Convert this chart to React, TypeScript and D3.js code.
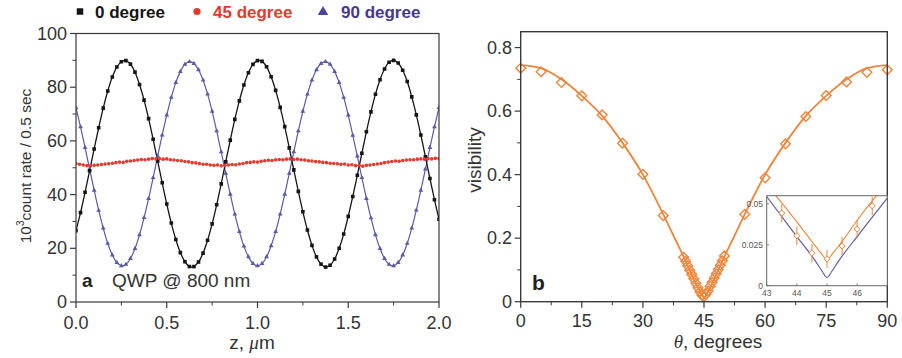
import React from "react";
import * as d3 from "d3";

// ---------- Panel a data ----------
const Z_STEP_BB = 0.025;
const Z_BB = d3.range(81).map((i) => +(i * Z_STEP_BB).toFixed(3));
const BLACK = [
  26.6, 33.3, 40.9, 48.9, 57.0, 64.9, 72.2, 78.6, 83.8, 87.5,
  89.5, 89.9, 88.6, 85.6, 81.0, 75.2, 68.3, 60.6, 52.5, 44.4,
  36.5, 29.4, 23.3, 18.4, 15.0, 13.2, 13.2, 14.9, 18.2, 23.0,
  29.1, 36.2, 44.0, 52.2, 60.3, 68.0, 74.9, 80.8, 85.4, 88.5,
  89.9, 89.6, 87.6, 83.9, 78.8, 72.5, 65.3, 57.4, 49.2, 41.2,
  33.6, 26.8, 21.1, 16.8, 14.1, 13.0, 13.7, 16.0, 20.0, 25.3,
  31.9, 39.3, 47.2, 55.4, 63.4, 70.8, 77.4, 82.8, 86.8, 89.3,
  90.0, 89.0, 86.3, 82.1, 76.4, 69.7, 62.2, 54.1, 46.0, 38.1, 30.8,
];
const BLUE = [
  72.3, 65.2, 57.5, 49.5, 41.6, 34.1, 27.5, 21.8, 17.5, 14.7,
  13.5, 14.0, 16.2, 19.9, 25.0, 31.4, 38.5, 46.3, 54.3, 62.2,
  69.6, 76.2, 81.7, 85.8, 88.5, 89.5, 88.8, 86.5, 82.6, 77.4,
  71.0, 63.7, 55.9, 47.9, 40.1, 32.7, 26.2, 20.8, 16.8, 14.3,
  13.5, 14.3, 16.8, 20.9, 26.2, 32.7, 40.1, 47.9, 55.9, 63.7,
  71.0, 77.4, 82.6, 86.5, 88.8, 89.5, 88.5, 85.8, 81.7, 76.2,
  69.6, 62.1, 54.3, 46.3, 38.5, 31.3, 25.0, 19.9, 16.2, 14.0,
  13.5, 14.7, 17.5, 21.8, 27.5, 34.2, 41.6, 49.5, 57.5, 65.2, 72.4,
];
const Z_RED = d3.range(101).map((i) => +(i * 0.02).toFixed(3));
const RED = [
  51.6, 51.3, 51.0, 50.8, 50.7, 50.9, 51.0, 51.2, 51.4, 51.5,
  51.7, 51.9, 52.1, 52.0, 52.4, 52.5, 52.7, 52.9, 53.1, 53.0,
  53.2, 53.4, 53.3, 53.4, 53.2, 53.3, 53.0, 52.9, 52.7, 52.6,
  52.3, 52.2, 51.9, 51.8, 51.6, 51.3, 51.3, 51.0, 50.9, 51.0,
  50.7, 50.9, 51.0, 51.2, 51.1, 51.4, 51.6, 51.9, 52.0, 52.2,
  52.1, 52.4, 52.6, 52.8, 52.7, 53.0, 53.1, 53.0, 53.2, 53.3,
  53.1, 53.2, 53.0, 52.9, 52.6, 52.5, 52.3, 52.2, 52.0, 51.9,
  51.7, 51.6, 51.5, 51.3, 51.4, 51.0, 51.1, 50.8, 50.9, 50.6,
  50.9, 51.0, 51.2, 51.4, 51.6, 51.9, 52.1, 52.3, 52.5, 52.4,
  52.7, 52.9, 53.0, 53.0, 53.2, 53.3, 53.2, 53.4, 53.3, 53.5, 53.4,
];
const A_X_TICKS = [0, 0.5, 1.0, 1.5, 2.0];
const A_X_MINOR = [0.25, 0.75, 1.25, 1.75];
const A_Y_TICKS = [0, 20, 40, 60, 80, 100];
const A_Y_MINOR = [10, 30, 50, 70, 90];
const LEGEND = ["0 degree", "45 degree", "90 degree"];

// ---------- Panel b data ----------
const THETA_PTS = [
  0, 5, 10, 15, 20, 25, 30, 35,
  40, 40.5, 41, 41.5, 42, 42.5, 43, 43.5, 44, 44.5, 45, 45.5, 46, 46.5, 47, 47.5, 48, 48.5, 49, 49.5, 50,
  55, 60, 65, 70, 75, 80, 85, 90,
];
const VIS_PTS = [
  0.735, 0.724, 0.69, 0.648, 0.588, 0.499, 0.401, 0.271,
  0.14, 0.127, 0.113, 0.099, 0.086, 0.072, 0.058, 0.044, 0.031, 0.02, 0.017, 0.024, 0.034, 0.049, 0.061, 0.075, 0.088, 0.101, 0.115, 0.129, 0.144,
  0.275, 0.39, 0.497, 0.583, 0.649, 0.692, 0.722, 0.73,
];
const FIT_THETA = [0, 5, 10, 15, 20, 25, 30, 35, 38, 40, 42, 43, 44, 44.5, 45, 45.5, 46, 47, 48, 50, 52, 55, 60, 65, 70, 75, 80, 85, 90];
const FIT_VIS = [0.745, 0.735, 0.7, 0.648, 0.585, 0.5, 0.4, 0.275, 0.195, 0.142, 0.086, 0.058, 0.034, 0.021, 0.013, 0.021, 0.034, 0.058, 0.086, 0.142, 0.195, 0.275, 0.4, 0.5, 0.585, 0.648, 0.7, 0.735, 0.745];
const B_X_TICKS = [0, 15, 30, 45, 60, 75, 90];
const B_X_MINOR = [7.5, 22.5, 37.5, 52.5, 67.5, 82.5];
const B_Y_TICKS = [0, 0.2, 0.4, 0.6, 0.8];
const B_Y_MINOR = [0.1, 0.3, 0.5, 0.7];

// ---------- Inset data ----------
const IN_THETA = [43.5, 44, 44.5, 45, 45.5, 46, 46.5];
const IN_VIS = [0.0444, 0.0305, 0.0199, 0.0164, 0.0243, 0.0346, 0.0488];
const IN_ERR = [0.0055, 0.0057, 0.0056, 0.0055, 0.0055, 0.0055, 0.0056];
const IN_FIT_THETA = [43, 44, 44.5, 44.8, 45, 45.2, 45.5, 46, 47];
const IN_FIT_VIS = [0.062, 0.039, 0.027, 0.02, 0.016, 0.02, 0.027, 0.04, 0.063];
const IN_TH_THETA = [43, 44, 44.6, 44.85, 45, 45.15, 45.4, 46, 47];
const IN_TH_VIS = [0.0545, 0.03, 0.0155, 0.0085, 0.005, 0.0085, 0.0155, 0.03, 0.0535];
const IN_X_TICKS = [43, 44, 45, 46];
const IN_Y_TICKS = [0, 0.025, 0.05];

const FONT = "'Liberation Sans', Arial, Helvetica, sans-serif";
const BLACK_C = "#151515";
const BLUE_C = "#5a5aa8";
const RED_C = "#e5382e";
const ORANGE = "#ef843a";
const AXIS_C = "#3a3a3a";

export default function App() {
  // panel a scales
  const ax = d3.scaleLinear().domain([0, 2]).range([76, 439]);
  const ay = d3.scaleLinear().domain([0, 100]).range([302, 33.5]);
  // panel b scales
  const bx = d3.scaleLinear().domain([0, 90]).range([520.7, 887.3]);
  const by = d3.scaleLinear().domain([0, 0.85]).range([301.7, 31.7]);
  // inset
  const ix = d3.scaleLinear().domain([43, 47]).range([766.7, 887.3]);
  const iy = d3.scaleLinear().domain([0, 0.055]).range([285.7, 195.7]);

  const lineA = d3
    .line<number>()
    .x((_, i) => ax(Z_BB[i]))
    .curve(d3.curveCatmullRom);
  const blackPath = lineA.y((d) => ay(d))(BLACK) || "";
  const bluePath = lineA.y((d) => ay(d))(BLUE) || "";

  const fitPath =
    d3
      .line<number>()
      .x((_, i) => bx(FIT_THETA[i]))
      .y((d) => by(d))
      .curve(d3.curveMonotoneX)(FIT_VIS) || "";
  const inFit =
    d3
      .line<number>()
      .x((_, i) => ix(IN_FIT_THETA[i]))
      .y((d) => iy(d))
      .curve(d3.curveMonotoneX)(IN_FIT_VIS) || "";
  const inTh =
    d3
      .line<number>()
      .x((_, i) => ix(IN_TH_THETA[i]))
      .y((d) => iy(d))
      .curve(d3.curveMonotoneX)(IN_TH_VIS) || "";

  const sq = d3.symbol(d3.symbolSquare, 13)() || "";
  const tri = d3.symbol(d3.symbolTriangle, 10)() || "";
  const sqLeg = d3.symbol(d3.symbolSquare, 42)() || "";
  const triLeg = d3.symbol(d3.symbolTriangle, 48)() || "";
  const dia = d3.symbol(d3.symbolDiamond2 ?? d3.symbolDiamond, 60)() || "";
  const diaSmall = d3.symbol(d3.symbolDiamond2 ?? d3.symbolDiamond, 24)() || "";

  const fmtA = (v: number) => String(v);
  const fmtAx = (v: number) => v.toFixed(1);
  const fmtB = (v: number) => (v === 0 ? "0" : v.toFixed(1));
  const fmtIn = (v: number) => (v === 0 ? "0" : String(v));

  return (
    <svg
      width={902}
      height={358}
      style={{ position: "absolute", left: 0, top: 0, background: "#fff" }}
      fontFamily={FONT}
    >
      <defs>
        <clipPath id="clipA">
          <rect x={76} y={33.5} width={363} height={268.5} />
        </clipPath>
        <clipPath id="clipIn">
          <rect x={766.7} y={195.7} width={120.6} height={90} />
        </clipPath>
      </defs>

      {/* ---------------- Panel a ---------------- */}
      <g>
        <path d={sqLeg} transform="translate(80,11.5)" fill={BLACK_C} />
        <text x={95} y={17.5} fontSize={17} fontWeight="bold" fill={BLACK_C}>{LEGEND[0]}</text>
        <circle cx={197} cy={11.5} r={3.6} fill={RED_C} />
        <text x={213} y={17.5} fontSize={17} fontWeight="bold" fill={RED_C}>{LEGEND[1]}</text>
        <path d={triLeg} transform="translate(323,12)" fill="#4a45a0" />
        <text x={341} y={17.5} fontSize={17} fontWeight="bold" fill="#47398c">{LEGEND[2]}</text>
      </g>

      <g clipPath="url(#clipA)">
        <path d={bluePath} fill="none" stroke={BLUE_C} strokeWidth={1.2} />
        <path d={blackPath} fill="none" stroke={BLACK_C} strokeWidth={1.3} />
        {BLUE.map((v, i) => (
          <path key={"bl" + i} d={tri} transform={`translate(${ax(Z_BB[i])},${ay(v)})`} fill={BLUE_C} />
        ))}
        {BLACK.map((v, i) => (
          <path key={"bk" + i} d={sq} transform={`translate(${ax(Z_BB[i])},${ay(v)})`} fill={BLACK_C} />
        ))}
        {RED.map((v, i) => (
          <circle key={"r" + i} cx={ax(Z_RED[i])} cy={ay(v)} r={1.8} fill={RED_C} />
        ))}
      </g>

      <rect x={76} y={33.5} width={363} height={268.5} fill="none" stroke={AXIS_C} strokeWidth={1.2} />
      {A_Y_TICKS.map((t) => (
        <g key={"ayt" + t}>
          <line x1={70} x2={76} y1={ay(t)} y2={ay(t)} stroke={AXIS_C} strokeWidth={1.2} />
          <text x={67} y={ay(t) + 6} fontSize={18} textAnchor="end" fill="#333">{fmtA(t)}</text>
        </g>
      ))}
      {A_Y_MINOR.map((t) => (
        <line key={"aym" + t} x1={72.5} x2={76} y1={ay(t)} y2={ay(t)} stroke={AXIS_C} strokeWidth={1} />
      ))}
      {A_X_TICKS.map((t) => (
        <g key={"axt" + t}>
          <line x1={ax(t)} x2={ax(t)} y1={302} y2={308} stroke={AXIS_C} strokeWidth={1.2} />
          <text x={ax(t)} y={329} fontSize={18} textAnchor="middle" fill="#333">{fmtAx(t)}</text>
        </g>
      ))}
      {A_X_MINOR.map((t) => (
        <line key={"axm" + t} x1={ax(t)} x2={ax(t)} y1={302} y2={305.5} stroke={AXIS_C} strokeWidth={1} />
      ))}
      <text x={252} y={349} fontSize={19} textAnchor="middle" fill="#333">
        z,{" "}
        <tspan fontStyle="italic" fontFamily="'Liberation Serif', 'DejaVu Serif', serif">μ</tspan>m
      </text>
      <text transform="translate(31,166) rotate(-90)" fontSize={15.5} textAnchor="middle" fill="#333">
        <tspan>10</tspan>
        <tspan dy={-7} fontSize={10}>3</tspan>
        <tspan dy={7}>count rate / 0.5 sec</tspan>
      </text>
      <text x={82} y={287} fontSize={19} fontWeight="bold" fill="#222">a</text>
      <text x={112} y={287} fontSize={19} fill="#333">QWP @ 800 nm</text>

      {/* ---------------- Panel b ---------------- */}
      <path d={fitPath} fill="none" stroke={ORANGE} strokeWidth={1.8} />
      {VIS_PTS.map((v, i) => (
        <path
          key={"d" + i}
          d={dia}
          transform={`translate(${bx(THETA_PTS[i])},${by(v)})`}
          fill="none"
          stroke={ORANGE}
          strokeWidth={1.4}
        />
      ))}
      <rect x={520.7} y={31.7} width={366.6} height={270} fill="none" stroke={AXIS_C} strokeWidth={1.4} />
      {B_Y_TICKS.map((t) => (
        <g key={"byt" + t}>
          <line x1={514.7} x2={520.7} y1={by(t)} y2={by(t)} stroke={AXIS_C} strokeWidth={1.2} />
          <text x={512} y={by(t) + 6} fontSize={18} textAnchor="end" fill="#333">{fmtB(t)}</text>
        </g>
      ))}
      {B_Y_MINOR.map((t) => (
        <line key={"bym" + t} x1={517.2} x2={520.7} y1={by(t)} y2={by(t)} stroke={AXIS_C} strokeWidth={1} />
      ))}
      {B_X_TICKS.map((t) => (
        <g key={"bxt" + t}>
          <line x1={bx(t)} x2={bx(t)} y1={301.7} y2={307.7} stroke={AXIS_C} strokeWidth={1.2} />
          <text x={bx(t)} y={327} fontSize={18} textAnchor="middle" fill="#333">{t}</text>
        </g>
      ))}
      {B_X_MINOR.map((t) => (
        <line key={"bxm" + t} x1={bx(t)} x2={bx(t)} y1={301.7} y2={305.2} stroke={AXIS_C} strokeWidth={1} />
      ))}
      <text x={718} y={348} fontSize={19} textAnchor="middle" fill="#333">
        <tspan fontStyle="italic" fontFamily="'Liberation Serif', 'DejaVu Serif', serif">θ</tspan>, degrees
      </text>
      <text transform="translate(481,160) rotate(-90)" fontSize={19} textAnchor="middle" fill="#333">visibility</text>
      <text x={532} y={290} fontSize={21} fontWeight="bold" fill="#222">b</text>

      {/* ---------------- Inset ---------------- */}
      <rect x={766.7} y={195.7} width={120.6} height={90} fill="#fff" />
      <g clipPath="url(#clipIn)">
        <path d={inTh} fill="none" stroke="#5555a5" strokeWidth={1.1} />
        <path d={inFit} fill="none" stroke={ORANGE} strokeWidth={1.1} />
        {IN_VIS.map((v, i) => (
          <g key={"iv" + i}>
            <line
              x1={ix(IN_THETA[i])}
              x2={ix(IN_THETA[i])}
              y1={iy(v - IN_ERR[i])}
              y2={iy(v + IN_ERR[i])}
              stroke={ORANGE}
              strokeWidth={1}
            />
            <path d={diaSmall} transform={`translate(${ix(IN_THETA[i])},${iy(v)})`} fill="#fff" stroke={ORANGE} strokeWidth={1} />
          </g>
        ))}
      </g>
      <rect x={766.7} y={195.7} width={120.6} height={90} fill="none" stroke="#666" strokeWidth={1} />
      {IN_Y_TICKS.map((t) => (
        <g key={"iyt" + t}>
          <line x1={766.7} x2={769} y1={iy(t)} y2={iy(t)} stroke="#666" strokeWidth={0.8} />
          <text x={763} y={iy(t) + 3} fontSize={8.5} textAnchor="end" fill="#555">{fmtIn(t)}</text>
        </g>
      ))}
      {IN_X_TICKS.map((t) => (
        <g key={"ixt" + t}>
          <line x1={ix(t)} x2={ix(t)} y1={285.7} y2={283.4} stroke="#666" strokeWidth={0.8} />
          <text x={ix(t)} y={296} fontSize={8.5} textAnchor="middle" fill="#555">{t}</text>
        </g>
      ))}
    </svg>
  );
}
